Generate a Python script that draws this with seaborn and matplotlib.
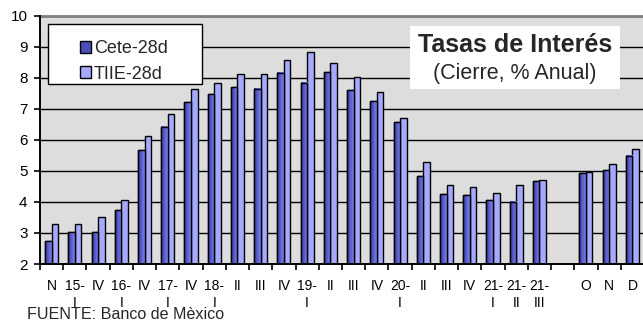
import numpy as np
import pandas as pd
import matplotlib
matplotlib.use("Agg")
import matplotlib.pyplot as plt
from matplotlib.patches import Rectangle
from matplotlib.colors import LinearSegmentedColormap
import seaborn as sns

# Quarter-end / month-end labels and 28-day rates (% annual)
categories = ["N", "15-\nI", "IV", "16-\nI", "IV", "17-\nI", "IV", "18-\nI", "II", "III",
              "IV", "19-\nI", "II", "III", "IV", "20-\nI", "II", "III", "IV", "21-\nI",
              "21-\nII", "21-\nIII", "", "O", "N", "D"]
cete_28d = [2.73, 3.03, 3.03, 3.73, 5.67, 6.42, 7.21, 7.47, 7.69, 7.65,
            8.16, 7.84, 8.17, 7.60, 7.24, 6.57, 4.83, 4.24, 4.22, 4.05,
            4.01, 4.67, np.nan, 4.92, 5.02, 5.48]
tiie_28d = [3.29, 3.29, 3.52, 4.05, 6.12, 6.82, 7.65, 7.82, 8.11, 8.11,
            8.58, 8.82, 8.46, 8.03, 7.53, 6.71, 5.28, 4.53, 4.47, 4.29,
            4.53, 4.70, np.nan, 4.98, 5.23, 5.70]
series_names = ["Cete-28d", "TIIE-28d"]
y_ticks = [2, 3, 4, 5, 6, 7, 8, 9, 10]

n = len(categories)
df = pd.DataFrame({
    "pos": list(range(n)) * 2,
    "rate": cete_28d + tiie_28d,
    "serie": [series_names[0]] * n + [series_names[1]] * n,
})

sns.set_style("white")
plt.rcParams["font.family"] = ["Liberation Sans", "DejaVu Sans"]

W, H = 643, 322
fig = plt.figure(figsize=(W / 100, H / 100), dpi=100)
ax = fig.add_axes([40 / W, (H - 264) / H, 604 / W, (264 - 15.7) / H])
ax.set_facecolor("#DDDDDD")

palette = {"Cete-28d": "#6468D2", "TIIE-28d": "#A5AAFF"}
sns.barplot(data=df, x="pos", y="rate", hue="serie", order=list(range(n)),
            hue_order=series_names, palette=palette, width=0.56,
            edgecolor="black", linewidth=1.0, saturation=1, legend=False,
            ax=ax, zorder=3)

y_floor = y_ticks[0]

# shaded face on the Cete bars
shade = LinearSegmentedColormap.from_list("shade", ["#34378F", "#5A5ED0", "#7E82E8"])
grad = np.linspace(0, 1, 64).reshape(1, -1)
for patch in ax.containers[0]:
    h = patch.get_height()
    if not np.isfinite(h) or h <= y_floor:
        continue
    x0 = patch.get_x()
    w = patch.get_width()
    ax.imshow(grad, cmap=shade, aspect="auto", extent=(x0, x0 + w, y_floor, h),
              zorder=3.5, interpolation="bilinear")
    ax.add_patch(Rectangle((x0, y_floor), w, h - y_floor, fill=False,
                           edgecolor="black", linewidth=1.0, zorder=3.6))

ax.set_xlim(-0.5, n - 0.5)
ax.set_ylim(2, 10)
ax.set_yticks(y_ticks)
ax.set_yticklabels([str(v) for v in y_ticks])
ax.yaxis.grid(True, color="black", linewidth=1.0, zorder=1)
ax.set_axisbelow(True)

ax.set_xticks(range(n))
ax.set_xticklabels(categories, linespacing=1.25)
ax.set_xticks(np.arange(-0.5, n, 1.0), minor=True)
ax.tick_params(axis="x", which="major", length=0, pad=11, labelsize=10, colors="black")
ax.tick_params(axis="x", which="minor", length=4, width=1.2, direction="out",
               bottom=True, color="black")
ax.tick_params(axis="y", length=4, width=1.2, direction="out", left=True,
               pad=5, labelsize=11, colors="black")
ax.set_xlabel("")
ax.set_ylabel("")

for side in ["left", "bottom"]:
    ax.spines[side].set_color("black")
    ax.spines[side].set_linewidth(1.4)
    ax.spines[side].set_zorder(4)
ax.spines["top"].set_color("#808080")
ax.spines["top"].set_linewidth(2.0)
ax.spines["right"].set_visible(False)

# legend box
fig.patches.append(Rectangle((48 / W, 1 - 84 / H), 154 / W, 60 / H,
                             transform=fig.transFigure, facecolor="white",
                             edgecolor="black", linewidth=1.0, zorder=5))
handles = [Rectangle((0, 0), 1, 1, facecolor=palette[s], edgecolor="black", linewidth=1.0)
           for s in series_names]
handles[0].set_facecolor("#4A4EB8")
leg = fig.legend(handles, series_names, loc="upper left",
                 bbox_to_anchor=(66 / W, 1 - 26 / H), frameon=False,
                 fontsize=13, handlelength=0.6, handleheight=0.6,
                 handletextpad=0.15, labelspacing=0.45, borderpad=0.3)
leg.set_zorder(6)

# title box
fig.patches.append(Rectangle((410 / W, 1 - 89 / H), 210 / W, 63 / H,
                             transform=fig.transFigure, facecolor="white",
                             edgecolor="none", zorder=5))
fig.text(515 / W, 1 - 45 / H, "Tasas de Interés", ha="center", va="center",
         fontsize=18, fontweight="bold", zorder=6)
fig.text(515 / W, 1 - 73 / H, "(Cierre, % Anual)", ha="center", va="center",
         fontsize=15.5, zorder=6)

fig.text(27 / W, 3 / H, "FUENTE: Banco de Mèxico", ha="left", va="baseline",
         fontsize=11.6)

fig.savefig("out.png", dpi=100)
